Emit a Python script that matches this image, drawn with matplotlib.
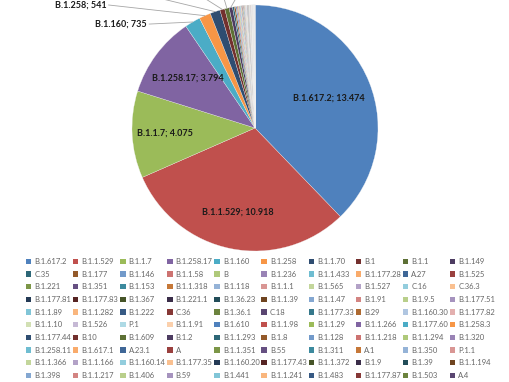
import numpy as np
import matplotlib
matplotlib.use('Agg')
import matplotlib.pyplot as plt
from matplotlib.patches import Patch

# variantes (orden de la leyenda, por filas)
names = ['B.1.617.2', 'B.1.1.529', 'B.1.1.7', 'B.1.258.17', 'B.1.160', 'B.1.258', 'B.1.1.70', 'B.1', 'B.1.1', 'B.1.149',
         'C.35', 'B.1.177', 'B.1.146', 'B.1.1.58', 'B', 'B.1.236', 'B.1.1.433', 'B.1.177.28', 'A.27', 'B.1.525',
         'B.1.221', 'B.1.351', 'B.1.153', 'B.1.1.318', 'B.1.118', 'B.1.1.1', 'B.1.565', 'B.1.527', 'C.16', 'C.36.3',
         'B.1.177.81', 'B.1.177.83', 'B.1.367', 'B.1.221.1', 'B.1.36.23', 'B.1.1.39', 'B.1.1.47', 'B.1.91', 'B.1.9.5', 'B.1.177.51',
         'B.1.1.89', 'B.1.1.282', 'B.1.222', 'C.36', 'B.1.36.1', 'C.18', 'B.1.177.33', 'B.29', 'B.1.160.30', 'B.1.177.82',
         'B.1.1.10', 'B.1.526', 'P.1', 'B.1.1.91', 'B.1.610', 'B.1.1.98', 'B.1.1.29', 'B.1.1.266', 'B.1.177.60', 'B.1.258.3',
         'B.1.177.44', 'B.10', 'B.1.609', 'B.1.2', 'B.1.1.293', 'B.1.8', 'B.1.128', 'B.1.1.218', 'B.1.1.294', 'B.1.320',
         'B.1.258.11', 'B.1.617.1', 'A.23.1', 'A', 'B.1.1.351', 'B.55', 'B.1.311', 'A.1', 'B.1.350', 'P.1.1',
         'B.1.1.366', 'B.1.1.166', 'B.1.160.14', 'B.1.177.35', 'B.1.160.20', 'B.1.177.43', 'B.1.1.372', 'B.1.9', 'B.1.39', 'B.1.1.194',
         'B.1.398', 'B.1.1.217', 'B.1.406', 'B.59', 'B.1.441', 'B.1.1.241', 'B.1.483', 'B.1.177.87', 'B.1.503', 'A.4']

# casos (los pequenos estimados de la imagen)
values = [13474, 10918, 4075, 3794, 735, 541, 470, 230, 205, 160,
          80, 70, 60, 52, 46, 42, 38, 35, 32, 29,
          27, 25, 23, 21, 20, 19, 18, 17, 16, 15,
          17, 16, 15, 14, 13, 13, 12, 12, 11, 11,
          10, 10, 9, 9, 9, 8, 8, 8, 7, 7,
          7, 6, 6, 6, 6, 5, 5, 5, 5, 5,
          4, 4, 4, 4, 4, 4, 3, 3, 3, 3,
          3, 3, 3, 3, 2, 2, 2, 2, 2, 2,
          2, 2, 2, 2, 2, 2, 1, 1, 1, 1,
          1, 1, 1, 1, 1, 1, 1, 1, 1, 1]

# etiquetas dentro del pastel
inner_labels = {0: 0.65, 1: 0.70, 2: 0.73, 3: 0.68}

# paleta tipo Excel
base = ['#4F81BD', '#C0504D', '#9BBB59', '#8064A2', '#4BACC6', '#F79646']
shades = [('s', 1.0), ('s', 0.6), ('t', 0.2), ('s', 0.8), ('t', 0.4), ('s', 0.45), ('t', 0.3), ('s', 0.7), ('t', 0.55)]

def variant(hexc, kind, f):
    c = np.array(matplotlib.colors.to_rgb(hexc))
    if kind == 's':
        c = c * f
    else:
        c = c + (1 - c) * f
    return tuple(c)

colors = []
for i in range(len(values)):
    k, f = shades[(i // 6) % len(shades)]
    colors.append(variant(base[i % 6], k, f))

fig = plt.figure(figsize=(5.1, 3.82), dpi=100)
ax = fig.add_axes([0, 0, 1, 1])
wedges, _ = ax.pie(values, colors=colors, startangle=90, counterclock=False,
                   wedgeprops=dict(edgecolor='#f2f2f2', linewidth=0.2))
R = 123.0
ax.set_xlim(-255 / R, 255 / R)
ax.set_ylim(-(382 - 128) / R, 128 / R)
ax.axis('off')

def mid(i):
    w = wedges[i]
    return np.deg2rad((w.theta1 + w.theta2) / 2)

#Etiquetas interiores
for i, r in inner_labels.items():
    a = mid(i)
    ax.text(r * np.cos(a), r * np.sin(a), '%s; %s' % (names[i], format(values[i], ',').replace(',', '.')),
            ha='center', va='center', fontsize=6.5, fontweight='bold', family='Lato', color='#1a1a1a')

#Etiquetas con linea
lc = '#a6a6a6'
a = mid(4)
ax.plot([np.cos(a), -0.86], [np.sin(a), 0.845], color=lc, lw=0.6)
ax.text(-0.88, 0.845, '%s; %d' % (names[4], values[4]), ha='right', va='center',
        fontsize=6.5, fontweight='bold', family='Lato', color='#1a1a1a')
a = mid(5)
ax.plot([np.cos(a), -1.19], [np.sin(a), 1.0], color=lc, lw=0.6)
ax.text(-1.21, 1.0, '%s; %d' % (names[5], values[5]), ha='right', va='center',
        fontsize=6.5, fontweight='bold', family='Lato', color='#1a1a1a')
for i, xe in zip([6, 7, 8, 9], [-0.88, -0.45, -0.26, -0.14]):
    a = mid(i)
    ax.plot([np.cos(a), xe], [np.sin(a), 1.08], color=lc, lw=0.6)

#Leyenda por columnas
for c in range(10):
    idx = [r * 10 + c for r in range(10)]
    h = [Patch(facecolor=colors[j]) for j in idx]
    l = [names[j] for j in idx]
    x0 = (26 + 47.1 * c) / 510
    fig.legend(h, l, loc='upper left', bbox_to_anchor=(x0, 1 - 258 / 382), frameon=False,
               prop={'family': 'Lato', 'size': 5.5}, labelcolor='#666666',
               handlelength=0.7, handleheight=0.7, handletextpad=0.4, labelspacing=0.74,
               borderpad=0, borderaxespad=0)

fig.savefig('out.png', dpi=100)
